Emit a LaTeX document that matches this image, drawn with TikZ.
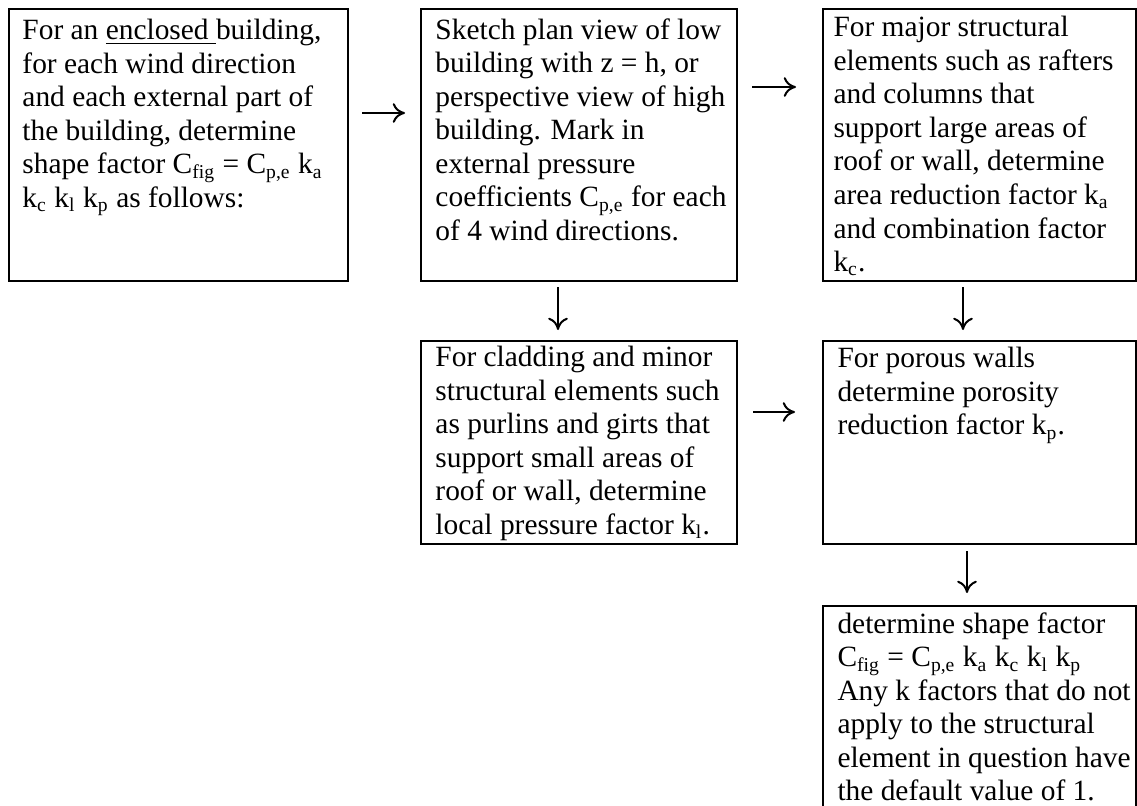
\documentclass[tikz,border=0pt]{standalone}
\usepackage{fontspec}
\setmainfont{Liberation Serif}
\usetikzlibrary{arrows.meta}
\newlength\px
\setlength\px{0.01435cm}
\newcommand\sbs[1]{\textsubscript{#1}}
\begin{document}
\begin{tikzpicture}[x=\px,y=-\px,
 stepbox/.style={draw,line width=1pt,anchor=north west,inner sep=0pt},
 boxtext/.style={anchor=north west,align=left,inner sep=0pt,font=\fontsize{12}{13.68}\selectfont},
 flow/.style={line width=0.8pt,-{Computer Modern Rightarrow[length=5pt,width=8pt]}}]
 \useasboundingbox (0,0) rectangle (1137,805);
 \node[stepbox,minimum width=339\px,minimum height=272\px] (encl) at (8,8) {};
 \node[stepbox,minimum width=316\px,minimum height=272\px] (sketch) at (420,8) {};
 \node[stepbox,minimum width=313\px,minimum height=272\px] (major) at (822,8) {};
 \node[stepbox,minimum width=316\px,minimum height=203\px] (minor) at (420,340) {};
 \node[stepbox,minimum width=313\px,minimum height=203\px] (porous) at (822,340) {};
 \node[stepbox,minimum width=313\px,minimum height=215\px] (shape) at (822,605) {};
 \node[boxtext] (encltxt) at ([shift={(14,11)}]encl.north west)
  {For an \underline{enclosed }building,\\ for each wind direction\\ and each external part of\\
   the building, determine\\ shape factor C\sbs{fig} = C\sbs{p,e} k\sbs{a}\\ k\sbs{c} k\sbs{l} k\sbs{p} as follows:};
 \node[boxtext] (sketchtxt) at ([shift={(15,10)}]sketch.north west)
  {Sketch plan view of low\\ building with z = h, or\\ perspective view of high\\ building. Mark in\\
   external pressure\\ coefficients C\sbs{p,e} for each\\ of 4 wind directions.};
 \node[boxtext] (majortxt) at ([shift={(11,8)}]major.north west)
  {For major structural\\ elements such as rafters\\ and columns that\\ support large areas of\\
   roof or wall, determine\\ area reduction factor k\sbs{a}\\ and combination factor\\ k\sbs{c}.};
 \node[boxtext] (minortxt) at ([shift={(15,6)}]minor.north west)
  {For cladding and minor\\ structural elements such\\ as purlins and girts that\\ support small areas of\\
   roof or wall, determine\\ local pressure factor k\sbs{l}.};
 \node[boxtext] (poroustxt) at ([shift={(15,7)}]porous.north west)
  {For porous walls\\ determine porosity\\ reduction factor k\sbs{p}.};
 \node[boxtext] (shapetxt) at ([shift={(15,7)}]shape.north west)
  {determine shape factor\\ C\sbs{fig} = C\sbs{p,e} k\sbs{a} k\sbs{c} k\sbs{l} k\sbs{p}\\ Any k factors that do not\\
   apply to the structural\\ element in question have\\ the default value of 1.};
 \draw[flow] ([shift={(13,105)}]encl.north east) -- ([shift={(-15,105)}]sketch.north west);
 \draw[flow] ([shift={(14,79)}]sketch.north east) -- ([shift={(-26,79)}]major.north west);
 \draw[flow] ([shift={(138,5)}]sketch.south west) -- ([shift={(138,-10)}]minor.north west);
 \draw[flow] ([shift={(141,5)}]major.south west) -- ([shift={(141,-10)}]porous.north west);
 \draw[flow] ([shift={(15,72)}]minor.north east) -- ([shift={(-27,72)}]porous.north west);
 \draw[flow] ([shift={(145,6)}]porous.south west) -- ([shift={(145,-12)}]shape.north west);
\end{tikzpicture}
\end{document}
